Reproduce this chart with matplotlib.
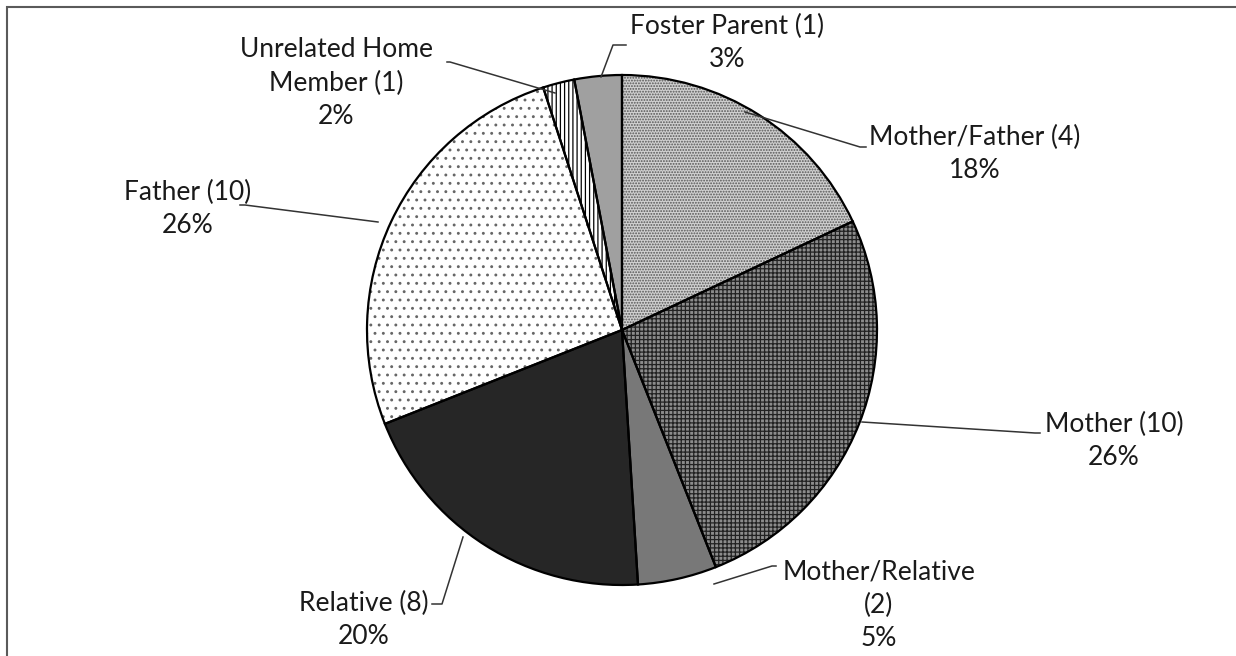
import matplotlib
matplotlib.use("Agg")
import matplotlib.pyplot as plt
from matplotlib.patches import Rectangle

# slices, clockwise from 12 o'clock
labels = ["Mother/Father (4)", "Mother (10)", "Mother/Relative\n(2)", "Relative (8)",
          "Father (10)", "Unrelated Home\nMember (1)", "Foster Parent (1)"]
percents = [18, 26, 5, 20, 26, 2, 3]

faces = ["#d0d0d0", "#8c8c8c", "#787878", "#262626", "white", "white", "#a0a0a0"]
hatches = ["......", "++++", "", "", "..", "||||", ""]
hatch_cols = ["#555555", "#222222", "#787878", "#262626", "#666666", "black", "#a0a0a0"]

# label text positions (pixels, image coords) and leader line points
text_pos = [(975, 154), (1114, 441), (879, 605), (364, 620), (188, 209), (336, 83), (727, 43)]
leaders = [
    [(745, 112), (860, 147), (866, 147)],
    [(862, 422), (1035, 433), (1040, 433)],
    [(714, 584), (772, 566), (776, 566)],
    [(463, 537), (442, 604), (432, 604)],
    [(378, 222), (245, 205), (240, 205)],
    [(555, 93), (450, 62), (447, 62)],
    [(601, 77), (613, 45), (626, 45)],
]

W, H = 1236, 656
cx, cy, r = 622, 330, 255

plt.rcParams['hatch.linewidth'] = 0.9
fig = plt.figure(figsize=(12.36, 6.56), dpi=100)
ax = fig.add_axes([0, 0, 1, 1])

# fill + hatch pass
wedges, _ = ax.pie(percents, startangle=90, counterclock=False, radius=r,
                   center=(cx, H - cy), frame=True)
for w, fc, hc, ht in zip(wedges, faces, hatch_cols, hatches):
    w.set_facecolor(fc)
    w.set_edgecolor(hc)
    w.set_hatch(ht)
    w.set_linewidth(0)

# outline pass
ax.pie(percents, startangle=90, counterclock=False, radius=r, center=(cx, H - cy),
       frame=True, colors=["none"] * len(percents),
       wedgeprops=dict(edgecolor="black", linewidth=1.6))

for lab, p, (tx, ty), pts in zip(labels, percents, text_pos, leaders):
    ax.text(tx, H - ty, lab + "\n" + str(p) + "%", ha="center", va="center",
            fontsize=19, family=["Lato", "DejaVu Sans"], color="#1a1a1a", linespacing=1.4)
    xs = [q[0] for q in pts]
    ys = [H - q[1] for q in pts]
    ax.plot(xs, ys, color="#333333", lw=1.1)

ax.add_patch(Rectangle((7, -10), W + 20, H - 7 + 10, fill=False, edgecolor="#5a5a5a", lw=1.5))

ax.set_xlim(0, W)
ax.set_ylim(0, H)
ax.set_aspect("equal")
ax.axis("off")
fig.savefig("out.png", dpi=100)
